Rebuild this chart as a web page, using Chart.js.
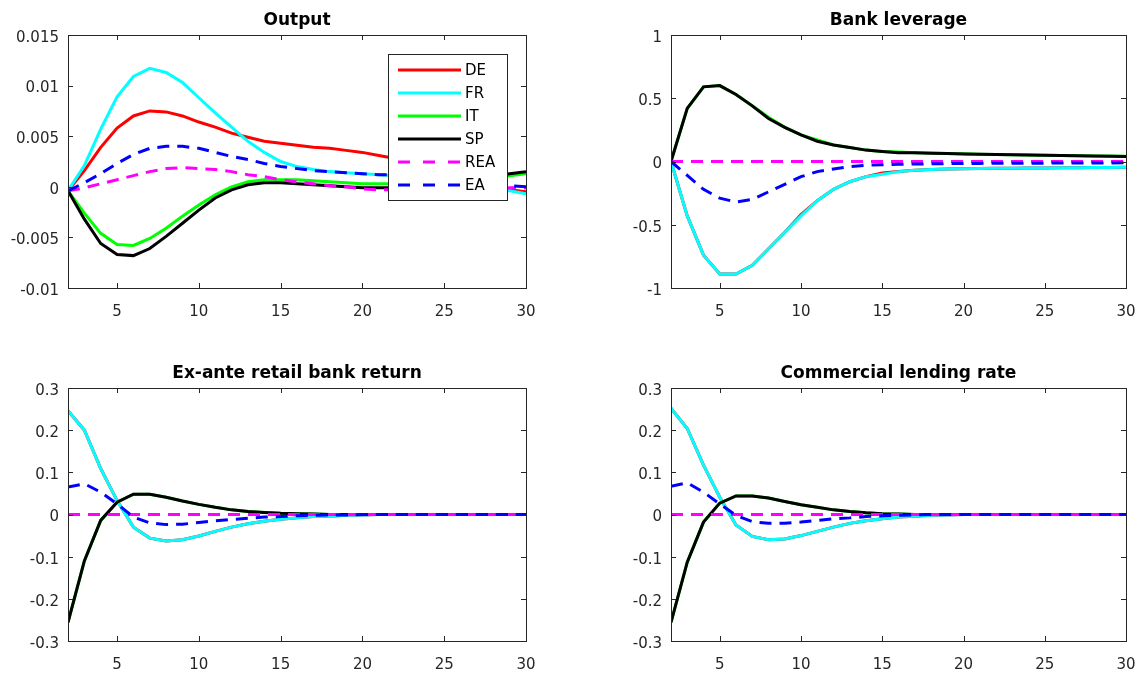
<!DOCTYPE html>
<html>
<head>
<meta charset="utf-8">
<script src="https://cdn.jsdelivr.net/npm/chart.js@4.4.1/dist/chart.umd.min.js"></script>
<style>
  body { margin: 0; background: #fff; width: 1142px; height: 678px; position: relative; overflow: hidden; }
  canvas { position: absolute; }
</style>
</head>
<body>
<canvas id="cOutput" width="571" height="339" style="left:0;top:0"></canvas>
<canvas id="cLeverage" width="571" height="339" style="left:571px;top:0"></canvas>
<canvas id="cReturn" width="571" height="339" style="left:0;top:339px"></canvas>
<canvas id="cLending" width="571" height="339" style="left:571px;top:339px"></canvas>
<script>
// periodos (eje x)
const periods = [2,3,4,5,6,7,8,9,10,11,12,13,14,15,16,17,18,19,20,21,22,23,24,25,26,27,28,29,30];
const xTicks = [5,10,15,20,25,30];
const seriesNames = ['DE','FR','IT','SP','REA','EA'];

// Output
const outputDE  = [-0.0004,0.0016,0.0039,0.0058,0.0070,0.0075,0.0074,0.0070,0.0064,0.0059,0.0053,0.0049,0.0045,0.0043,0.0041,0.0039,0.0038,0.0036,0.0034,0.0031,0.0028,0.0023,0.0018,0.0013,0.0008,0.0004,0.0000,-0.0003,-0.0005];
const outputFR  = [-0.0004,0.0021,0.0057,0.0089,0.0109,0.0117,0.0113,0.0103,0.0088,0.0073,0.0059,0.0045,0.0034,0.0025,0.0020,0.0017,0.0015,0.0014,0.0013,0.0012,0.0011,0.0009,0.0007,0.0005,0.0003,0.0001,-0.0002,-0.0004,-0.0007];
const outputIT  = [-0.0004,-0.0026,-0.0046,-0.0057,-0.0058,-0.0051,-0.0041,-0.0029,-0.0018,-0.0008,0.0000,0.0005,0.0007,0.0007,0.0007,0.0006,0.0005,0.0004,0.0003,0.0003,0.0003,0.0004,0.0005,0.0006,0.0007,0.0009,0.0010,0.0011,0.0013];
const outputSP  = [-0.0004,-0.0032,-0.0056,-0.0067,-0.0068,-0.0061,-0.0049,-0.0036,-0.0023,-0.0011,-0.0003,0.0002,0.0004,0.0004,0.0003,0.0002,0.0001,0.0000,-0.0001,-0.0001,-0.0001,0.0001,0.0003,0.0005,0.0007,0.0009,0.0011,0.0013,0.0015];
const outputREA = [-0.0004,-0.0001,0.0003,0.0007,0.0011,0.0015,0.0018,0.0019,0.0018,0.0017,0.0015,0.0012,0.0010,0.0007,0.0005,0.0003,0.0001,0.0000,-0.0002,-0.0003,-0.0003,-0.0003,-0.0003,-0.0003,-0.0002,-0.0002,-0.0002,-0.0001,-0.0001];
const outputEA  = [-0.0004,0.0004,0.0013,0.0023,0.0032,0.0038,0.0040,0.0040,0.0038,0.0034,0.0030,0.0027,0.0023,0.0020,0.0018,0.0016,0.0015,0.0014,0.0013,0.0012,0.0012,0.0010,0.0008,0.0007,0.0005,0.0003,0.0002,0.0001,0.0000];
const outputTicks = [-0.01,-0.005,0,0.005,0.01,0.015];

// Bank leverage
const levDE  = [0,-0.43,-0.74,-0.89,-0.89,-0.82,-0.69,-0.56,-0.42,-0.31,-0.22,-0.16,-0.12,-0.09,-0.08,-0.07,-0.063,-0.06,-0.058,-0.056,-0.054,-0.053,-0.052,-0.051,-0.05,-0.049,-0.048,-0.047,-0.045];
const levFR  = [0,-0.43,-0.74,-0.89,-0.89,-0.82,-0.69,-0.56,-0.43,-0.31,-0.22,-0.16,-0.12,-0.10,-0.08,-0.07,-0.063,-0.06,-0.058,-0.056,-0.054,-0.053,-0.052,-0.051,-0.05,-0.049,-0.048,-0.047,-0.045];
const levIT  = [0,0.42,0.59,0.60,0.53,0.44,0.35,0.27,0.21,0.17,0.13,0.11,0.09,0.08,0.075,0.07,0.067,0.064,0.061,0.058,0.056,0.054,0.052,0.05,0.048,0.046,0.044,0.043,0.041];
const levSP  = [0,0.42,0.59,0.60,0.53,0.44,0.34,0.27,0.21,0.16,0.13,0.11,0.09,0.08,0.07,0.07,0.066,0.063,0.06,0.058,0.055,0.053,0.051,0.049,0.047,0.045,0.043,0.042,0.04];
const levREA = [0,0,0,0,0,0,0,0,0,0,0,0,0,0,0,0,0,0,0,0,0,0,0,0,0,0,0,0,0];
const levEA  = [0,-0.11,-0.22,-0.29,-0.32,-0.30,-0.24,-0.18,-0.12,-0.08,-0.06,-0.04,-0.03,-0.026,-0.022,-0.02,-0.018,-0.017,-0.016,-0.015,-0.014,-0.014,-0.013,-0.013,-0.012,-0.012,-0.011,-0.011,-0.01];
const levTicks = [-1,-0.5,0,0.5,1];

// Ex-ante retail bank return
const retDE  = [0.246,0.20,0.109,0.033,-0.030,-0.056,-0.063,-0.060,-0.051,-0.040,-0.030,-0.022,-0.016,-0.011,-0.008,-0.005,-0.004,-0.002,-0.001,0,0,0,0,0,0,0,0,0,0];
const retFR  = [0.246,0.20,0.109,0.033,-0.030,-0.056,-0.063,-0.060,-0.051,-0.040,-0.030,-0.022,-0.016,-0.011,-0.008,-0.005,-0.004,-0.002,-0.001,0,0,0,0,0,0,0,0,0,0];
const retIT  = [-0.256,-0.11,-0.014,0.029,0.048,0.048,0.041,0.032,0.024,0.017,0.011,0.007,0.005,0.003,0.002,0.001,0,0,0,0,0,0,0,0,0,0,0,0,0];
const retSP  = [-0.256,-0.11,-0.014,0.029,0.048,0.048,0.041,0.032,0.024,0.017,0.011,0.007,0.005,0.003,0.002,0.001,0,0,0,0,0,0,0,0,0,0,0,0,0];
const retREA = [0,0,0,0,0,0,0,0,0,0,0,0,0,0,0,0,0,0,0,0,0,0,0,0,0,0,0,0,0];
const retEA  = [0.065,0.073,0.053,0.025,-0.006,-0.020,-0.024,-0.023,-0.019,-0.015,-0.012,-0.009,-0.006,-0.005,-0.003,-0.002,-0.001,-0.001,0,0,0,0,0,0,0,0,0,0,0];

// Commercial lending rate
const lendDE  = [0.252,0.204,0.117,0.041,-0.025,-0.052,-0.060,-0.058,-0.050,-0.040,-0.030,-0.021,-0.015,-0.010,-0.006,-0.004,-0.002,-0.001,0,0,0,0,0,0,0,0,0,0,0];
const lendFR  = [0.252,0.204,0.117,0.041,-0.025,-0.052,-0.060,-0.058,-0.050,-0.040,-0.030,-0.021,-0.015,-0.010,-0.006,-0.004,-0.002,-0.001,0,0,0,0,0,0,0,0,0,0,0];
const lendIT  = [-0.256,-0.113,-0.018,0.027,0.044,0.044,0.039,0.031,0.023,0.017,0.011,0.007,0.004,0.002,0.001,0,0,0,0,0,0,0,0,0,0,0,0,0,0];
const lendSP  = [-0.256,-0.113,-0.018,0.027,0.044,0.044,0.039,0.031,0.023,0.017,0.011,0.007,0.004,0.002,0.001,0,0,0,0,0,0,0,0,0,0,0,0,0,0];
const lendREA = [0,0,0,0,0,0,0,0,0,0,0,0,0,0,0,0,0,0,0,0,0,0,0,0,0,0,0,0,0];
const lendEA  = [0.067,0.075,0.053,0.025,-0.002,-0.017,-0.021,-0.021,-0.018,-0.014,-0.010,-0.008,-0.005,-0.003,-0.002,-0.001,0,0,0,0,0,0,0,0,0,0,0,0,0];
const rateTicks = [-0.3,-0.2,-0.1,0,0.1,0.2,0.3];

// estilo de cada serie (colores tipo MATLAB)
const lineColors = ['#ff0000','#00ffff','#00ff00','#000000','#ff00ff','#0000ff'];
const lineDashes = [[],[],[],[],[12,8],[12,8]];

const tickFont = { family: '"DejaVu Sans", sans-serif', size: 15 };
const axisColor = '#262626';

// marco y marcas hacia dentro (box on)
const boxPlugin = {
  id: 'matBox',
  afterDatasetsDraw(chart) {
    const { ctx, chartArea: a, scales } = chart;
    ctx.save();
    ctx.strokeStyle = axisColor;
    ctx.lineWidth = 1;
    ctx.beginPath();
    scales.x.ticks.forEach(t => {
      const px = Math.round(scales.x.getPixelForValue(t.value)) + 0.5;
      ctx.moveTo(px, a.bottom); ctx.lineTo(px, a.bottom - 5);
      ctx.moveTo(px, a.top); ctx.lineTo(px, a.top + 5);
    });
    scales.y.ticks.forEach(t => {
      const py = Math.round(scales.y.getPixelForValue(t.value)) + 0.5;
      ctx.moveTo(a.left, py); ctx.lineTo(a.left + 5, py);
      ctx.moveTo(a.right, py); ctx.lineTo(a.right - 5, py);
    });
    ctx.stroke();
    ctx.strokeRect(Math.round(a.left) + 0.5, Math.round(a.top) + 0.5,
                   Math.round(a.right - a.left), Math.round(a.bottom - a.top));
    ctx.restore();
  }
};

// título centrado sobre el área del gráfico
const titlePlugin = {
  id: 'matTitle',
  afterDraw(chart, args, opts) {
    const { ctx, chartArea: a } = chart;
    ctx.save();
    ctx.font = 'bold 17px "DejaVu Sans", sans-serif';
    ctx.fillStyle = '#000';
    ctx.textAlign = 'center';
    ctx.textBaseline = 'alphabetic';
    ctx.fillText(opts.text, (a.left + a.right) / 2, a.top - 10);
    ctx.restore();
  }
};

// leyenda con recuadro (solo en Output)
const boxLegend = {
  id: 'boxLegend',
  afterDraw(chart, args, opts) {
    if (!opts.show) return;
    const { ctx, chartArea: a } = chart;
    const x0 = a.left + 320, y0 = a.top + 19, w = 119, h = 146;
    ctx.save();
    ctx.fillStyle = '#fff';
    ctx.fillRect(x0, y0, w, h);
    ctx.strokeStyle = axisColor;
    ctx.lineWidth = 1;
    ctx.strokeRect(x0 + 0.5, y0 + 0.5, w, h);
    ctx.font = '15px "DejaVu Sans", sans-serif';
    ctx.textBaseline = 'middle';
    chart.data.datasets.forEach((ds, i) => {
      const y = y0 + 16 + i * 23;
      ctx.strokeStyle = ds.borderColor;
      ctx.lineWidth = 3;
      ctx.setLineDash(ds.borderDash.length ? [12, 13] : []);
      ctx.beginPath();
      ctx.moveTo(x0 + 10, y); ctx.lineTo(x0 + 73, y);
      ctx.stroke();
      ctx.setLineDash([]);
      ctx.fillStyle = '#000';
      ctx.fillText(ds.label, x0 + 77, y + 1);
    });
    ctx.restore();
  }
};

function makePanel(id, title, series, yTicks, yWidth, xHeight, pad, legend) {
  new Chart(document.getElementById(id), {
    type: 'line',
    data: {
      labels: periods,
      datasets: series.map((s, i) => ({
        label: seriesNames[i],
        data: s,
        borderColor: lineColors[i],
        borderDash: lineDashes[i],
        borderWidth: 3,
        pointRadius: 0,
        tension: 0,
        fill: false,
        order: series.length - i
      }))
    },
    options: {
      responsive: false,
      animation: false,
      layout: { padding: pad },
      plugins: {
        legend: { display: false },
        tooltip: { enabled: false },
        matTitle: { text: title },
        boxLegend: { show: legend }
      },
      scales: {
        x: {
          type: 'linear',
          min: 2, max: 30,
          afterBuildTicks: s => { s.ticks = xTicks.map(v => ({ value: v })); },
          afterFit: s => { s.height = xHeight; s.paddingLeft = 0; s.paddingRight = 0; },
          grid: { display: false, drawTicks: false },
          border: { display: false },
          ticks: { font: tickFont, color: axisColor, padding: 15, maxRotation: 0, autoSkip: false,
                   callback: v => String(v) }
        },
        y: {
          min: yTicks[0], max: yTicks[yTicks.length - 1],
          afterBuildTicks: s => { s.ticks = yTicks.map(v => ({ value: v })); },
          afterFit: s => { s.width = yWidth; },
          grid: { display: false, drawTicks: false },
          border: { display: false },
          ticks: { font: tickFont, color: axisColor, padding: 9, labelOffset: 3, autoSkip: false,
                   callback: v => String(v) }
        }
      }
    },
    plugins: [boxPlugin, titlePlugin, boxLegend]
  });
}

makePanel('cOutput', 'Output',
  [outputDE, outputFR, outputIT, outputSP, outputREA, outputEA],
  outputTicks, 68, 51, { top: 35, right: 45, left: 0, bottom: 0 }, true);
makePanel('cLeverage', 'Bank leverage',
  [levDE, levFR, levIT, levSP, levREA, levEA],
  levTicks, 100, 51, { top: 35, right: 16, left: 0, bottom: 0 }, false);
makePanel('cReturn', 'Ex-ante retail bank return',
  [retDE, retFR, retIT, retSP, retREA, retEA],
  rateTicks, 68, 37, { top: 49, right: 45, left: 0, bottom: 0 }, false);
makePanel('cLending', 'Commercial lending rate',
  [lendDE, lendFR, lendIT, lendSP, lendREA, lendEA],
  rateTicks, 100, 37, { top: 49, right: 16, left: 0, bottom: 0 }, false);
</script>
</body>
</html>
